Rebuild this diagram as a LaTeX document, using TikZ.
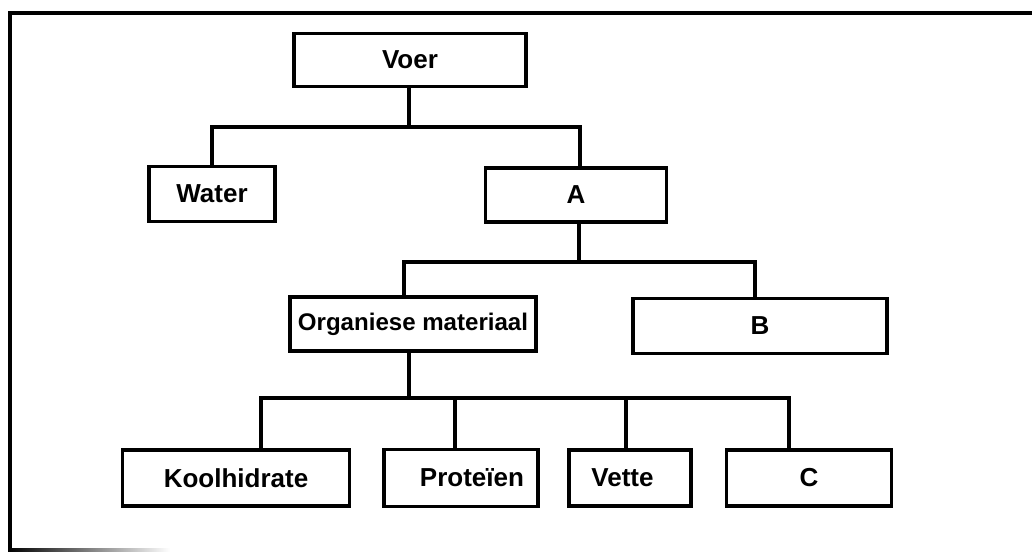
\documentclass[tikz,border=0pt]{standalone}
\usepackage{fontspec}
\setmainfont{Liberation Sans}
\begin{document}
\begin{tikzpicture}[
				x=0.02cm,
				y=-0.02cm,
				line join=miter,
				box/.style={draw, line width=2pt, inner sep=0pt, font=\fontsize{14.8}{17}\selectfont\bfseries},
				link/.style={line width=2pt}
			]

			\useasboundingbox (0,0) rectangle (1032,552);

			% Frame
			\draw[line width=2pt] (10,548) -- (10,13) -- (1040,13);
			\shade[left color=black, right color=white] (8,548.5) rectangle (170,551.5);

			% Boxes
			\node[box, minimum width=4.64cm, minimum height=1.06cm] (voer) at (410,60) {Voer};
			\node[box, minimum width=2.52cm, minimum height=1.10cm] (water) at (212,194) {Water};
			\node[box, minimum width=3.62cm, minimum height=1.08cm] (a) at (576,195) {A};
			\node[box, minimum width=4.92cm, minimum height=1.08cm, font=\fontsize{13.7}{16}\selectfont\bfseries] (org) at (413,324) {Organiese materiaal};
			\node[box, minimum width=5.08cm, minimum height=1.10cm] (b) at (760,326) {B};
			\node[box, minimum width=4.54cm, minimum height=1.12cm] (kool) at (236,478) {Koolhidrate};
			\node[box, minimum width=3.08cm, minimum height=1.14cm] (prot) at (461,478) {\hspace*{0.44cm}Proteïen};
			\node[box, minimum width=2.44cm, minimum height=1.12cm] (vette) at (630,478) {\hspace*{-0.3cm}Vette};
			\node[box, minimum width=3.30cm, minimum height=1.12cm] (c) at (809,478) {C};

			% Junctions
			\coordinate (j1) at (409,127);
			\coordinate (j2) at (579,262);
			\coordinate (j3) at (409,398);

			% Links
			\draw[link] (voer.south -| j1) -- (j1);
			\draw[link] (water.north) |- (j1) -| ([xshift=0.08cm]a.north);
			\draw[link] (a.south -| j2) -- (j2);
			\draw[link] ([xshift=-0.18cm]org.north) |- (j2) -| ([xshift=-0.1cm]b.north);
			\draw[link] (org.south -| j3) -- (j3);
			\draw[link] ([xshift=0.5cm]kool.north) |- (j3) -| ([xshift=-0.4cm]c.north);
			\draw[link] ([xshift=-0.12cm]prot.north) -- ([xshift=-0.12cm]prot.north |- j3);
			\draw[link] ([xshift=-0.08cm]vette.north) -- ([xshift=-0.08cm]vette.north |- j3);

		\end{tikzpicture}
\end{document}
